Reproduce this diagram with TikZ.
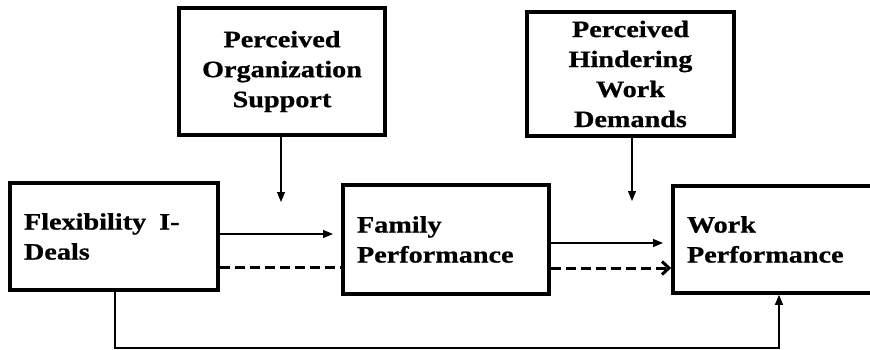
\documentclass[tikz,border=0pt]{standalone}
\usepackage{fontspec}
\setmainfont{Liberation Serif}[FakeStretch=1.2,FakeBold=0.8]
\usetikzlibrary{arrows.meta}
\begin{document}
\begin{tikzpicture}[x=1pt,y=-1pt,
  box/.style={draw, line width=3.6pt, inner sep=0pt, font=\fontsize{23.5}{30}\selectfont\bfseries},
  lbox/.style={box, align=left},
  cbox/.style={box, align=center},
  solidarr/.style={line width=1.2pt, -{Triangle[length=10pt,width=8pt]}},
  dasharr/.style={line width=3pt, dash pattern=on 10pt off 5pt},
  thinline/.style={line width=1.2pt}]
\path[use as bounding box, clip] (0,0) rectangle (870,349);
% boxes
\node[lbox, minimum width=208pt, minimum height=107pt, text width=180pt] (A) at (114,236.5) {Flexibility\hspace{13pt}I-\\Deals};
\node[lbox, minimum width=206pt, minimum height=109pt, text width=178pt] (B) at (446,239.5) {Family\\Performance};
\node[lbox, minimum width=207pt, minimum height=107pt, text width=179pt] (C) at (776.5,239.5) {Work\\Performance};
\node[cbox, minimum width=206pt, minimum height=127pt, text width=190pt] (D) at (282,71.5) {Perceived\\Organization\\Support};
\node[cbox, minimum width=207pt, minimum height=124pt, text width=190pt] (E) at (630.5,74) {Perceived\\Hindering\\Work\\Demands};
% moderator arrows
\coordinate (dtip) at (281,202);
\coordinate (etip) at (632,201);
\draw[solidarr] (D.south -| dtip) -- (dtip);
\draw[solidarr] (E.south -| etip) -- (etip);
% A -> B
\coordinate (abtip) at (333,234);
\draw[solidarr] (A.east |- abtip) -- (abtip);
\coordinate (abd) at (0,267);
\draw[dasharr] (A.east |- abd) -- (B.west |- abd);
% B -> C
\coordinate (bctip) at (663,243);
\draw[solidarr] (B.east |- bctip) -- (bctip);
\coordinate (bcd) at (0,268);
\draw[dasharr, -{Straight Barb[length=7pt,width=13pt]}] (B.east |- bcd) -- (C.west |- bcd);
% A -> C bottom
\coordinate (bl) at (115,348);
\coordinate (br) at (779,348);
\draw[thinline, -{Triangle[length=10pt,width=8pt]}] (A.south -| bl) -- (bl) -- (br) -- (C.south -| br);
\end{tikzpicture}
\end{document}
